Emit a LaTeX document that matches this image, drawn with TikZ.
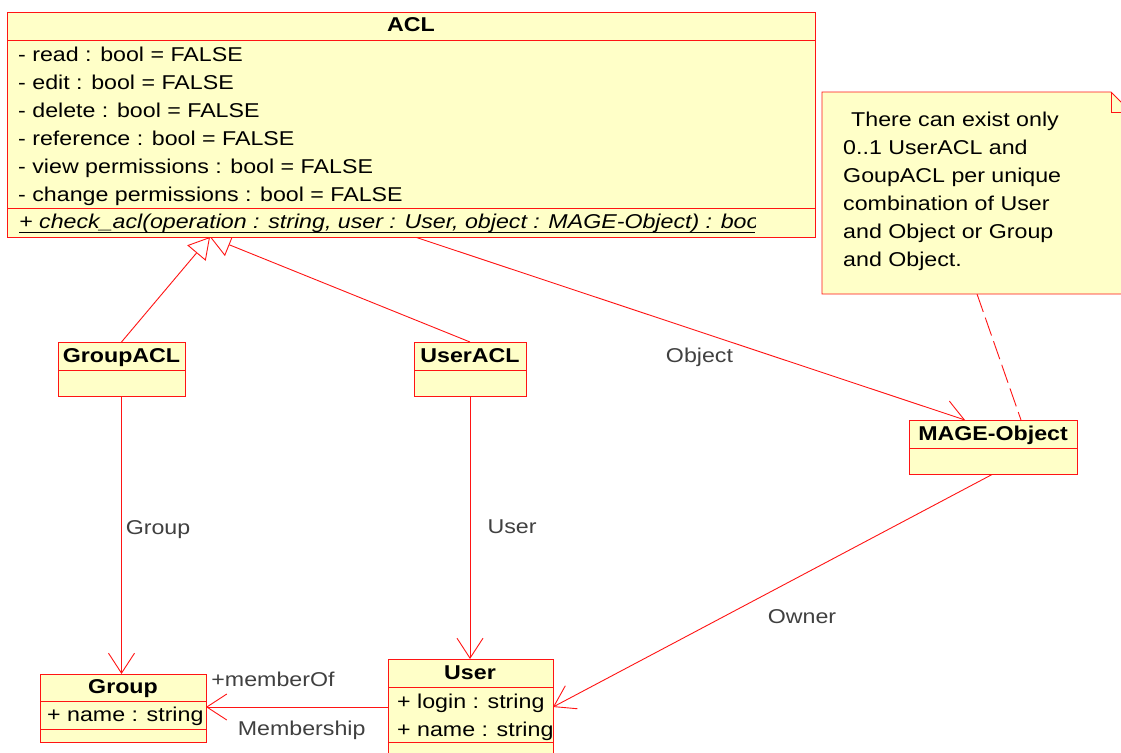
\documentclass[tikz,border=0pt]{standalone}
\usepackage{fontspec}
\setmainfont{Liberation Sans}[FakeStretch=1.16]
\usetikzlibrary{arrows.meta}
\definecolor{umlfill}{RGB}{255,255,200}
\definecolor{umlline}{RGB}{255,20,20}
\definecolor{labelgray}{RGB}{64,64,64}
\newcommand{\umlsize}{\fontsize{20}{28}\selectfont}
\pgfdeclarelayer{paper}
\pgfdeclarelayer{wires}
\pgfsetlayers{paper,wires,main}
\tikzset{
  classbox/.style={draw=umlline, fill=umlfill, line width=0.9pt, rectangle,
    inner sep=0pt, outer sep=0pt, anchor=north west},
  sepline/.style={draw=umlline, line width=0.9pt},
  title/.style={font=\umlsize\bfseries, anchor=base, inner sep=0pt},
  member/.style={font=\umlsize, anchor=base west, inner sep=0pt},
  notetext/.style={font=\umlsize, anchor=base west, inner sep=0pt},
  role/.style={font=\umlsize, text=labelgray, anchor=base, inner sep=0pt},
  conn/.style={draw=umlline, line width=0.9pt},
  assoc/.style={conn, -{Straight Barb[length=20pt,width=26pt,line width=0.9pt]}},
  gen/.style={conn, -{Triangle[length=21pt,width=24pt,fill=white,line width=0.9pt]}},
  anchorline/.style={conn, dash pattern=on 19pt off 6pt},
}
\begin{document}
\begin{tikzpicture}[x=1pt, y=-1pt]
\clip (0,0) rectangle (1121,752);
\begin{pgfonlayer}{paper}
  \fill[white] (0,0) rectangle (1121,752);
\end{pgfonlayer}

% ---- ACL class ----
\node[classbox, minimum width=808pt, minimum height=225pt] (acl) at (7,12) {};
\draw[sepline] (7,40) -- (815,40);
\draw[sepline] (7,208) -- (815,208);
\node[title] (acltitle) at (411,32) {ACL};
\node[member] (a1) at (18,61)  {- read : bool = FALSE};
\node[member] (a2) at (18,89)  {- edit : bool = FALSE};
\node[member] (a3) at (18,117) {- delete : bool = FALSE};
\node[member] (a4) at (18,145) {- reference : bool = FALSE};
\node[member] (a5) at (18,173) {- view permissions : bool = FALSE};
\node[member] (a6) at (18,201) {- change permissions : bool = FALSE};
\begin{scope}
  \clip (7,209) rectangle (755,237);
  \node[member, font=\umlsize\itshape] (op1) at (19,228)
    {+ check\_acl(operation : string, user : User, object : MAGE-Object) : bool};
\end{scope}
\draw[black, line width=0.8pt] (19,232.5) -- (755,232.5);

% ---- Note ----
\filldraw[draw=umlline, fill=umlfill, line width=0.9pt]
  (822,92) -- (1111,92) -- (1131,112) -- (1131,294) -- (822,294) -- cycle;
\draw[sepline] (1111,92) -- (1111,112) -- (1131,112);
\node[notetext] (n1) at (851,126) {There can exist only};
\node[notetext] (n2) at (843,154) {0..1 UserACL and};
\node[notetext] (n3) at (843,182) {GoupACL per unique};
\node[notetext] (n4) at (843,210) {combination of User};
\node[notetext] (n5) at (843,238) {and Object or Group};
\node[notetext] (n6) at (843,266) {and Object.};
\coordinate (noteanchor) at (977,294);

% ---- GroupACL ----
\node[classbox, minimum width=127pt, minimum height=54pt] (groupacl) at (58,342) {};
\draw[sepline] (58,370) -- (185,370);
\node[title] (groupacltitle) at (121.5,362.5) {GroupACL};

% ---- UserACL ----
\node[classbox, minimum width=112pt, minimum height=54pt] (useracl) at (414,342) {};
\draw[sepline] (414,370) -- (526,370);
\node[title] (useracltitle) at (470,362.5) {UserACL};

% ---- MAGE-Object ----
\node[classbox, minimum width=168pt, minimum height=54pt] (mage) at (909,420) {};
\draw[sepline] (909,448) -- (1077,448);
\node[title] (magetitle) at (993,440) {MAGE-Object};

% ---- Group ----
\node[classbox, minimum width=166pt, minimum height=68pt] (group) at (40,674) {};
\draw[sepline] (40,701.5) -- (206,701.5);
\draw[sepline] (40,729) -- (206,729);
\node[title] (grouptitle) at (123,693.5) {Group};
\node[member] (g1) at (47,721.5) {+ name : string};

% ---- User ----
\node[classbox, minimum width=165pt, minimum height=96pt] (user) at (388,659) {};
\draw[sepline] (388,687) -- (553,687);
\draw[sepline] (388,742) -- (553,742);
\node[title] (usertitle) at (470,679) {User};
\node[member] (u1) at (397,708) {+ login : string};
\node[member] (u2) at (397,736) {+ name : string};

% ---- Connectors ----
\coordinate (gentip) at (210,237);
\begin{pgfonlayer}{wires}
  \draw[gen] (groupacl.north) -- (gentip);
  \draw[gen] (useracl.north) -- (gentip);
  \draw[assoc] ([xshift=4pt]acl.south) -- ([xshift=-28pt]mage.north);
  \draw[anchorline] (noteanchor) -- ([xshift=-56pt]mage.north east);
  \draw[assoc] (groupacl.south) -- (groupacl.south |- group.north);
  \draw[assoc] (useracl.south) -- (useracl.south |- user.north);
  \draw[assoc] (mage.south) -- (user.east);
  \draw[assoc] (user.west) -- (user.west -| group.east);
\end{pgfonlayer}

% ---- Role and association labels ----
\node[role] (lobject) at (699.5,362.3) {Object};
\node[role] (lgroup) at (158,534) {Group};
\node[role] (luser) at (512,533) {User};
\node[role] (lowner) at (802,623) {Owner};
\node[role] (lmemberof) at (273,686.7) {+memberOf};
\node[role] (lmembership) at (301.7,735) {Membership};
\end{tikzpicture}
\end{document}
